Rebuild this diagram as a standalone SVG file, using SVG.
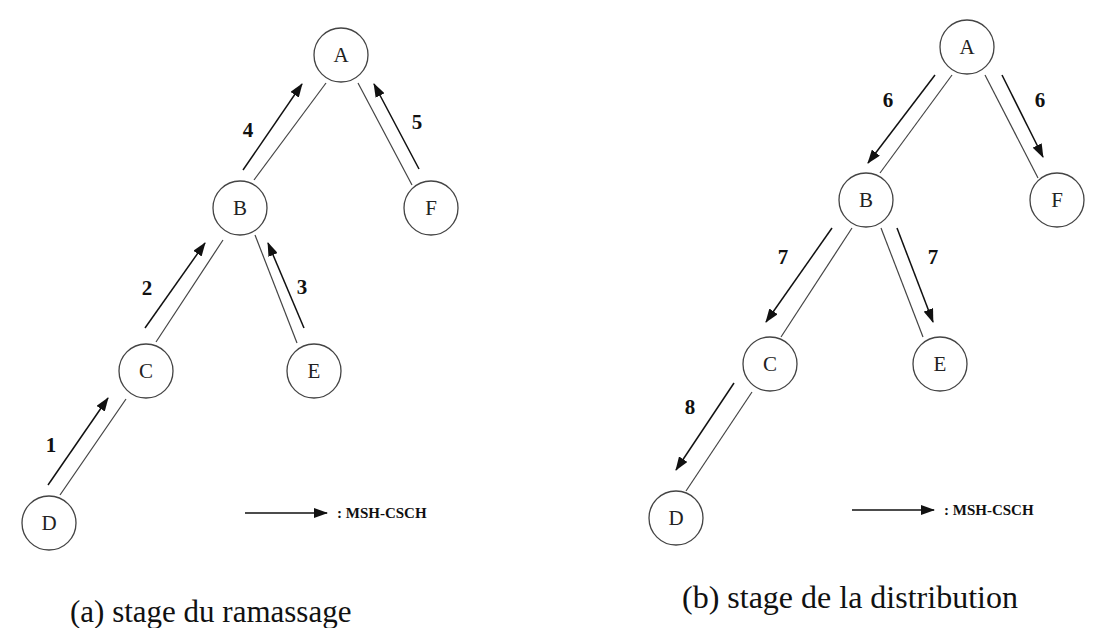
<svg xmlns="http://www.w3.org/2000/svg" width="1101" height="628" viewBox="0 0 1101 628">
  <defs>
    <marker id="head" markerUnits="userSpaceOnUse" markerWidth="14" markerHeight="10" viewBox="0 0 14 10" refX="13" refY="5" orient="auto">
      <path d="M0,0 L14,5 L0,10 Z" fill="#111"/>
    </marker>
    <style>
      .node circle { fill: #fff; stroke: #444; stroke-width: 1.3; }
      .node text { font-family: "Liberation Serif", "Times New Roman", serif; font-size: 21px; fill: #222; text-anchor: middle; }
      .edge { stroke: #444; stroke-width: 1.2; fill: none; }
      .msg { stroke: #111; stroke-width: 1.5; fill: none; marker-end: url(#head); }
      .step { font-family: "Liberation Serif", "Times New Roman", serif; font-size: 21px; font-weight: bold; fill: #111; text-anchor: middle; }
      .legend { font-family: "Liberation Serif", "Times New Roman", serif; font-size: 15px; font-weight: bold; fill: #111; }
      .caption { font-family: "Liberation Serif", "Times New Roman", serif; font-size: 31px; fill: #111; }
    </style>
  </defs>
  <rect width="1101" height="628" fill="#fff"/>

  <!-- (a) collection stage: messages travel up the tree -->
  <g id="connectors-a">
    <line class="edge" x1="326" y1="83" x2="254" y2="180"/>
    <line class="msg" x1="243" y1="170" x2="302" y2="84"/>
    <line class="edge" x1="358" y1="83" x2="412" y2="185"/>
    <line class="msg" x1="419" y1="169" x2="374" y2="84"/>
    <line class="edge" x1="223" y1="240" x2="156" y2="342"/>
    <line class="msg" x1="145" y1="328" x2="205" y2="243"/>
    <line class="edge" x1="255" y1="235" x2="297" y2="343"/>
    <line class="msg" x1="304" y1="328" x2="268" y2="243"/>
    <line class="edge" x1="126" y1="399" x2="60" y2="495"/>
    <line class="msg" x1="48" y1="485" x2="108" y2="398"/>
    <text class="step" x="248" y="137">4</text>
    <text class="step" x="417" y="129">5</text>
    <text class="step" x="147" y="295">2</text>
    <text class="step" x="302" y="294">3</text>
    <text class="step" x="51" y="452">1</text>
  </g>
  <g id="a-A" class="node"><circle cx="341" cy="55" r="27"/><text x="341" y="62">A</text></g>
  <g id="a-B" class="node"><circle cx="240" cy="208" r="27"/><text x="240" y="215">B</text></g>
  <g id="a-F" class="node"><circle cx="431" cy="208" r="27"/><text x="431" y="215">F</text></g>
  <g id="a-C" class="node"><circle cx="146" cy="371" r="27"/><text x="146" y="378">C</text></g>
  <g id="a-E" class="node"><circle cx="314" cy="371" r="27"/><text x="314" y="378">E</text></g>
  <g id="a-D" class="node"><circle cx="49" cy="523" r="27"/><text x="49" y="530">D</text></g>
  <g id="legend-a">
    <line class="msg" x1="245" y1="513" x2="327" y2="513"/>
    <text class="legend" x="337" y="518">: MSH-CSCH</text>
  </g>

  <!-- (b) distribution stage: messages travel down the tree -->
  <g id="connectors-b">
    <line class="msg" x1="935" y1="75" x2="868" y2="163"/>
    <line class="edge" x1="952" y1="75" x2="880" y2="173"/>
    <line class="edge" x1="985" y1="75" x2="1038" y2="178"/>
    <line class="msg" x1="1002" y1="75" x2="1043" y2="157"/>
    <line class="msg" x1="832" y1="228" x2="766" y2="322"/>
    <line class="edge" x1="852" y1="228" x2="781" y2="337"/>
    <line class="edge" x1="881" y1="228" x2="923" y2="337"/>
    <line class="msg" x1="897" y1="228" x2="933" y2="322"/>
    <line class="msg" x1="734" y1="383" x2="676" y2="470"/>
    <line class="edge" x1="752" y1="392" x2="686" y2="491"/>
    <text class="step" x="888" y="107">6</text>
    <text class="step" x="1040" y="107">6</text>
    <text class="step" x="783" y="264">7</text>
    <text class="step" x="933" y="264">7</text>
    <text class="step" x="690" y="414">8</text>
  </g>
  <g id="b-A" class="node"><circle cx="967" cy="47" r="27"/><text x="967" y="54">A</text></g>
  <g id="b-B" class="node"><circle cx="866" cy="200" r="27"/><text x="866" y="207">B</text></g>
  <g id="b-F" class="node"><circle cx="1057" cy="200" r="27"/><text x="1057" y="207">F</text></g>
  <g id="b-C" class="node"><circle cx="770" cy="364" r="27"/><text x="770" y="371">C</text></g>
  <g id="b-E" class="node"><circle cx="940" cy="364" r="27"/><text x="940" y="371">E</text></g>
  <g id="b-D" class="node"><circle cx="676" cy="518" r="27"/><text x="676" y="525">D</text></g>
  <g id="legend-b">
    <line class="msg" x1="852" y1="510" x2="934" y2="510"/>
    <text class="legend" x="944" y="515">: MSH-CSCH</text>
  </g>

  <text class="caption" x="70" y="622">(a) stage du ramassage</text>
  <text class="caption" x="682" y="608" style="font-size:32px">(b) stage de la distribution</text>
</svg>
